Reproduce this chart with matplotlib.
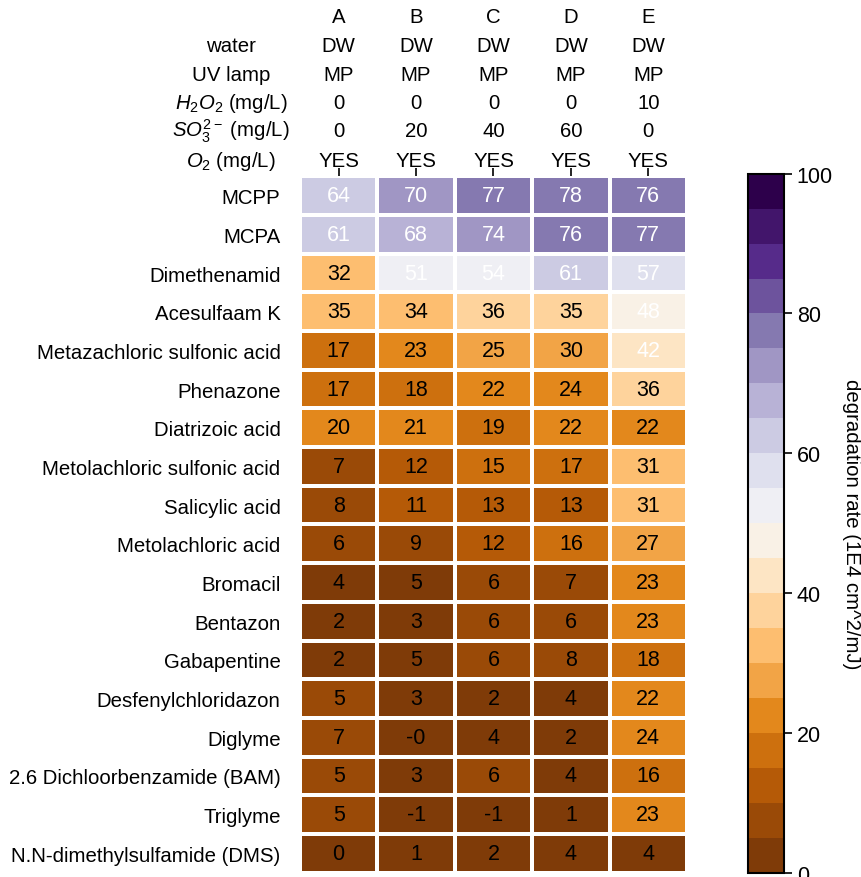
import matplotlib
matplotlib.use("Agg")
import matplotlib.pyplot as plt
import numpy as np

plt.rcParams['font.family'] = ['Liberation Sans', 'DejaVu Sans']
plt.rcParams['mathtext.fontset'] = 'custom'
plt.rcParams['mathtext.rm'] = 'Liberation Sans'
plt.rcParams['mathtext.it'] = 'Liberation Sans:italic'

# experiment header
experiments = ['A', 'B', 'C', 'D', 'E']
water = ['DW', 'DW', 'DW', 'DW', 'DW']
uv_lamp = ['MP', 'MP', 'MP', 'MP', 'MP']
h2o2 = ['0', '0', '0', '0', '10']
sulfite = ['0', '20', '40', '60', '0']
oxygen = ['YES', 'YES', 'YES', 'YES', 'YES']
header_names = ['water', 'UV lamp', r'$H_2O_2$ (mg/L)', r'$SO_3^{2-}$ (mg/L)', r'$O_2$ (mg/L)']

compounds = ['MCPP', 'MCPA', 'Dimethenamid', 'Acesulfaam K',
             'Metazachloric sulfonic acid', 'Phenazone', 'Diatrizoic acid',
             'Metolachloric sulfonic acid', 'Salicylic acid', 'Metolachloric acid',
             'Bromacil', 'Bentazon', 'Gabapentine', 'Desfenylchloridazon',
             'Diglyme', '2.6 Dichloorbenzamide (BAM)', 'Triglyme',
             'N.N-dimethylsulfamide (DMS)']

# degradation rates (1E4 cm^2/mJ), estimated from labels + cell colours
rates = np.array([
    [64, 70, 77, 78, 76],
    [61, 68, 74, 76, 77],
    [32, 51, 54, 61, 57],
    [34.8, 34, 36, 35.2, 48],
    [17, 23, 25.2, 29.7, 42],
    [17, 18, 22, 24, 36],
    [20.2, 21, 19, 22, 22],
    [7, 12, 15.2, 17, 31],
    [8, 11, 13, 13, 31],
    [6, 9, 12, 16, 27],
    [4, 4.8, 6, 7, 23],
    [2, 3, 6, 6, 23],
    [2, 4.8, 6, 8, 18],
    [5.2, 3, 2, 4, 22],
    [7, -0.3, 4, 2, 24],
    [5.2, 3, 6, 4, 16],
    [5.3, -1, -1, 1, 23],
    [0, 1, 2, 4, 4],
])

fig = plt.figure(figsize=(8.62, 8.78), dpi=100)
ax = fig.add_axes([0.348, 0.005, 0.449, 0.793])
cax = fig.add_axes([0.868, 0.005, 0.041, 0.796])

cmap = plt.get_cmap('PuOr', 20)
mesh = ax.pcolormesh(rates, cmap=cmap, vmin=0, vmax=100,
                     edgecolor='white', linewidth=1.5)
ax.set_xlim(0, rates.shape[1])
ax.set_ylim(rates.shape[0], 0)
for s in ax.spines.values():
    s.set_visible(False)

# cell annotations
for i in range(rates.shape[0]):
    for j in range(rates.shape[1]):
        v = rates[i, j]
        ax.text(j + 0.5, i + 0.5, f"{v:.0f}", ha='center', va='center',
                fontsize=15.5, color='white' if v >= 40 else 'black')

ax.set_yticks(np.arange(len(compounds)) + 0.5)
ax.set_yticklabels(compounds, fontsize=14.7)
ax.tick_params(axis='y', length=0, pad=14)

ax.xaxis.tick_top()
ax.set_xticks(np.arange(len(experiments)) + 0.5)
ax.set_xticklabels([])
ax.tick_params(axis='x', length=6, width=1.2, direction='out')

# header rows, baselines measured upward from the top of the heatmap (points)
rows = [experiments, water, uv_lamp, h2o2, sulfite, oxygen]
offsets = [111, 90.5, 69.5, 49, 28.7, 7.7]
for vals, off in zip(rows, offsets):
    for j, t in enumerate(vals):
        ax.annotate(t, xy=(j + 0.5, 1), xycoords=('data', 'axes fraction'),
                    xytext=(0, off), textcoords='offset points',
                    ha='center', va='baseline', fontsize=14.7)
for name, off in zip(header_names, offsets[1:]):
    ax.annotate(name, xy=(0.268, 1), xycoords=('figure fraction', 'axes fraction'),
                xytext=(0, off), textcoords='offset points',
                ha='center', va='baseline', fontsize=14.7)

cb = fig.colorbar(mesh, cax=cax)
cb.set_ticks([0, 20, 40, 60, 80, 100])
cb.ax.tick_params(labelsize=15.5, length=6, width=1.2)
cb.outline.set_linewidth(1.5)
cb.set_label('degradation rate (1E4 cm^2/mJ)', fontsize=14.7, rotation=270, labelpad=20)

fig.savefig('out.png', dpi=100, facecolor='white')
